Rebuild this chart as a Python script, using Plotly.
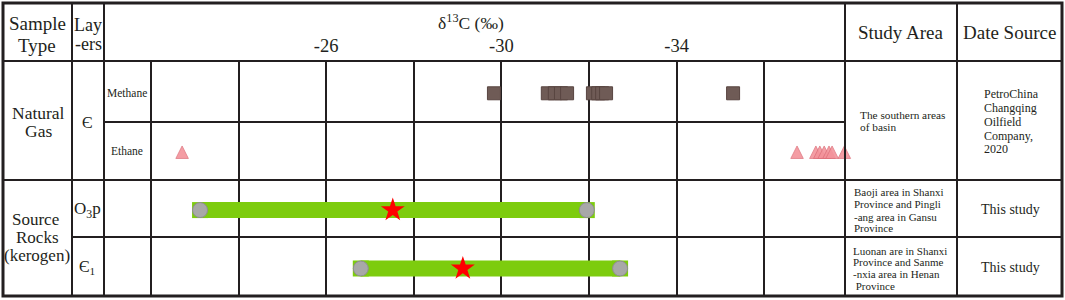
import plotly.graph_objects as go

# ---------------- data ----------------
rows = ["Methane", "Ethane", "O3p", "C1"]
methane_d13c = [-29.83, -31.06, -31.22, -31.36, -31.50, -32.09, -32.21, -32.30, -32.39, -35.29]
ethane_d13c = [-22.71, -36.75, -37.18, -37.27, -37.37, -37.48, -37.55, -37.83]
rock_rows = ["O3p", "C1"]
rock_min = [-23.12, -26.79]
rock_max = [-31.95, -32.71]
rock_avg = [-27.52, -29.12]
tick_vals = [-24, -26, -28, -30, -32, -34, -36]
tick_text = ["", "-26", "", "-30", "", "-34", ""]

W, H = 1065, 300
INK = "#231f20"
FONT = "Liberation Serif"
GREEN = "#7dcc0e"


def px(x):
    return x / W


def py(y):
    return 1 - y / H


fig = go.Figure()

# source-rock ranges (bars)
for r, lo, hi in zip(rock_rows, rock_min, rock_max):
    fig.add_trace(go.Scatter(
        x=[lo, hi], y=[r, r], mode="lines+markers",
        line=dict(color=GREEN, width=16),
        marker=dict(symbol="square", size=16, color=GREEN),
        cliponaxis=False, hoverinfo="skip"))

# range end points
fig.add_trace(go.Scatter(
    x=rock_min + rock_max, y=rock_rows * 2, mode="markers",
    marker=dict(symbol="circle", size=15, color="#a8a8a8",
                line=dict(color="#8e8e8e", width=1)),
    cliponaxis=False))

# averages
fig.add_trace(go.Scatter(
    x=rock_avg, y=rock_rows, mode="markers",
    marker=dict(symbol="star", size=18, color="#ff0000", line=dict(width=0)),
    cliponaxis=False))

# methane
fig.add_trace(go.Scatter(
    x=methane_d13c, y=["Methane"] * len(methane_d13c), mode="markers",
    marker=dict(symbol="square", size=13, color="#6f5b56",
                line=dict(color="#584541", width=1)),
    cliponaxis=False))

# ethane
fig.add_trace(go.Scatter(
    x=ethane_d13c, y=["Ethane"] * len(ethane_d13c), mode="markers",
    marker=dict(symbol="arrow-up", size=12.5, color="#f3939b",
                opacity=0.9, line=dict(color="#dc6f79", width=0.8)),
    cliponaxis=False, yaxis="y2"))

# ---------------- table lines ----------------
shapes = []


def hline(y, x0, x1, w=2):
    shapes.append(dict(type="line", xref="paper", yref="paper",
                       x0=px(x0), x1=px(x1), y0=py(y), y1=py(y),
                       line=dict(color=INK, width=w)))


def vline(x, y0, y1, w=2):
    shapes.append(dict(type="line", xref="paper", yref="paper",
                       x0=px(x), x1=px(x), y0=py(y0), y1=py(y1),
                       line=dict(color=INK, width=w)))


for x in (72, 104, 845, 957):
    vline(x, 3, 296)
vline(151, 61, 296)
hline(61, 3, 1062)
hline(122, 104, 845)
hline(180, 3, 1062)
hline(237, 72, 1062)
shapes.append(dict(type="rect", xref="paper", yref="paper",
                   x0=px(3), x1=px(1062), y0=py(3), y1=py(296),
                   line=dict(color=INK, width=3)))

# ---------------- texts ----------------
annotations = []


def txt(s, x, y, size, anchor="center"):
    annotations.append(dict(text=s, x=px(x), y=py(y), xref="paper", yref="paper",
                            xanchor=anchor, yanchor="middle", showarrow=False,
                            borderpad=0,
                            font=dict(family=FONT, size=size, color=INK)))


txt("Sample", 37, 24, 19)
txt("Type", 37, 45, 19)
txt("Lay", 88, 25, 18)
txt("-ers", 88, 44, 18)
txt("δ<sup>13</sup>C (‰)", 471, 22, 17.5)
txt("Study Area", 901, 33, 19)
txt("Date Source", 1009, 33, 19)

txt("Natural", 38, 113, 17.5)
txt("Gas", 38, 131, 17.5)
txt("Є", 87, 122, 16)
txt("Methane", 127, 93, 11.5)
txt("Ethane", 127, 151, 11.5)

txt("Source", 36, 219, 17)
txt("Rocks", 37, 237, 17)
txt("(kerogen)", 37, 255, 17)
txt("O<sub>3</sub>p", 87, 210, 17)
txt("Є<sub>1</sub>", 87, 267, 16)

for s, y in zip(["The southern areas", "of basin"], [115, 127]):
    txt(s, 859, y, 11.3, "left")
for s, y in zip(["PetroChina", "Changqing", "Oilfield", "Company,", "2020"],
                [94, 108, 122, 136, 149]):
    txt(s, 983, y, 12, "left")
for s, y in zip(["Baoji area in Shanxi", "Province and Pingli", "-ang area in Gansu", "Province"],
                [192, 204, 217, 228]):
    txt(s, 853, y, 11, "left")
for s, y in zip(["Luonan are in Shanxi", "Province and Sanme", "-nxia area in Henan", " Province"],
                [251, 262, 274, 286]):
    txt(s, 852, y, 11, "left")
txt("This study", 1010, 209, 14)
txt("This study", 1010, 267, 14)

# ---------------- layout ----------------
ydom = [py(296), py(61)]
fig.update_layout(
    width=W, height=H,
    margin=dict(l=0, r=0, t=0, b=0),
    paper_bgcolor="white", plot_bgcolor="white",
    showlegend=False,
    shapes=shapes, annotations=annotations,
    xaxis=dict(domain=[px(151), px(845)], range=[-22, -37.845],
               side="top", anchor="y",
               tickvals=tick_vals, ticktext=tick_text, ticks="",
               showgrid=True, gridcolor=INK, gridwidth=2,
               zeroline=False, showline=False, ticklabelstandoff=4,
               tickfont=dict(family=FONT, size=18.5, color=INK)),
    yaxis=dict(domain=ydom, type="category", categoryarray=rows,
               range=[3.471, -0.553], showgrid=False, zeroline=False,
               showticklabels=False, ticks="", showline=False),
    yaxis2=dict(overlaying="y", type="category", categoryarray=rows,
                range=[3.569, -0.455], visible=False, showgrid=False),
)

fig.write_html(
    "out.html",
    config={"displayModeBar": False},
    post_script="document.body.style.margin='0';document.body.style.padding='0';"
                "document.body.style.overflow='hidden';",
)
